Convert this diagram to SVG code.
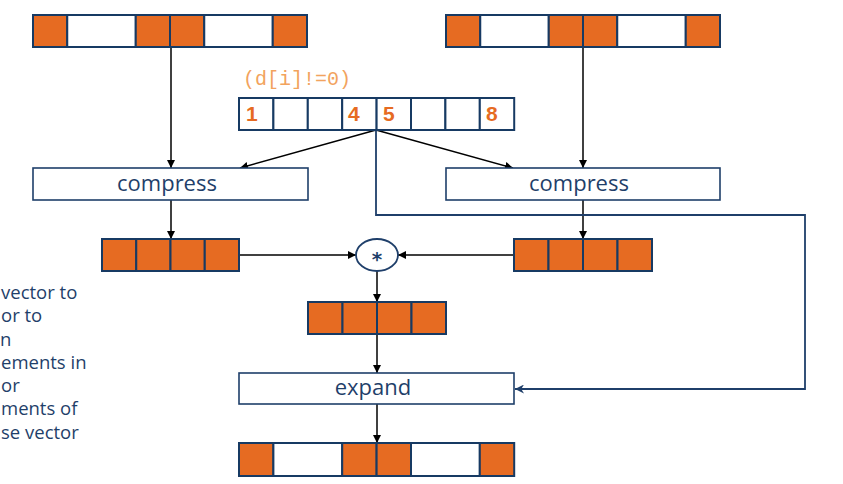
<svg xmlns="http://www.w3.org/2000/svg" width="843" height="484" viewBox="0 0 843 484">
<defs>
<style>
.o{fill:#E66B22;stroke:#173A63;stroke-width:2}
.w{fill:#FFFFFF;stroke:#173A63;stroke-width:2}
.box{fill:#FFFFFF;stroke:#1F3F6A;stroke-width:1.6}
.lbl{font-family:"Open Sans","Noto Sans",sans-serif;font-size:22px;fill:#1F3F6A;text-anchor:middle}
.num{font-family:"Liberation Sans",Arial,sans-serif;font-size:21px;font-weight:bold;fill:#E66B22}
.side{font-family:"Open Sans","Noto Sans",sans-serif;font-size:18.5px;fill:#1F3F6A}
.ln{fill:none;stroke:#000;stroke-width:1.5}
.nv{fill:none;stroke:#1F3F6A;stroke-width:1.8}
</style>
<marker id="ah" viewBox="0 0 10 10" refX="10" refY="5" markerWidth="8" markerHeight="8" markerUnits="userSpaceOnUse" orient="auto"><path d="M0,0 L10,5 L0,10 z" fill="#000"/></marker>
<marker id="ahb" viewBox="0 0 10 10" refX="10" refY="5" markerWidth="9" markerHeight="9" markerUnits="userSpaceOnUse" orient="auto"><path d="M0,0 L10,5 L0,10 L3,5 z" fill="#1F3F6A"/></marker>
</defs>

<g id="connectors">
<line class="ln" x1="171" y1="47" x2="171" y2="168" marker-end="url(#ah)"/>
<line class="ln" x1="583" y1="47" x2="583" y2="168" marker-end="url(#ah)"/>
<line class="ln" x1="376" y1="130" x2="240" y2="168" marker-end="url(#ah)"/>
<line class="ln" x1="376" y1="130" x2="513" y2="168" marker-end="url(#ah)"/>
<line class="ln" x1="171" y1="200" x2="171" y2="239" marker-end="url(#ah)"/>
<line class="ln" x1="583" y1="200" x2="583" y2="239" marker-end="url(#ah)"/>
<line class="ln" x1="239" y1="255" x2="356" y2="255" marker-end="url(#ah)"/>
<line class="ln" x1="514" y1="255" x2="398" y2="255" marker-end="url(#ah)"/>
<line class="ln" x1="377" y1="271" x2="377" y2="302" marker-end="url(#ah)"/>
<line class="ln" x1="377" y1="334" x2="377" y2="373" marker-end="url(#ah)"/>
<line class="ln" x1="377" y1="404" x2="377" y2="443" marker-end="url(#ah)"/>
<polyline class="nv" points="376,130 376,215 805,215 805,389 515,389" marker-end="url(#ahb)"/>
</g>

<g id="vecA">
<rect class="o" x="33" y="15" width="34.25" height="32"/>
<rect class="w" x="67.25" y="15" width="68.5" height="32"/>
<rect class="o" x="135.75" y="15" width="34.25" height="32"/>
<rect class="o" x="170" y="15" width="34.25" height="32"/>
<rect class="w" x="204.25" y="15" width="68.5" height="32"/>
<rect class="o" x="272.75" y="15" width="34.25" height="32"/>
</g>

<g id="vecB">
<rect class="o" x="446" y="15" width="34.25" height="32"/>
<rect class="w" x="480.25" y="15" width="68.5" height="32"/>
<rect class="o" x="548.75" y="15" width="34.25" height="32"/>
<rect class="o" x="583" y="15" width="34.25" height="32"/>
<rect class="w" x="617.25" y="15" width="68.5" height="32"/>
<rect class="o" x="685.75" y="15" width="34.25" height="32"/>
</g>

<g id="mask">
<text x="243" y="85" font-family="Liberation Mono,'DejaVu Sans Mono',monospace" font-size="20" fill="#F2A35E">(d[i]!=0)</text>
<rect class="w" x="239" y="98" width="34.4" height="32"/>
<rect class="w" x="273.4" y="98" width="34.4" height="32"/>
<rect class="w" x="307.8" y="98" width="34.4" height="32"/>
<rect class="w" x="342.2" y="98" width="34.4" height="32"/>
<rect class="w" x="376.6" y="98" width="34.4" height="32"/>
<rect class="w" x="411" y="98" width="34.4" height="32"/>
<rect class="w" x="445.4" y="98" width="34.4" height="32"/>
<rect class="w" x="479.8" y="98" width="34.4" height="32"/>
<text class="num" x="246" y="121">1</text>
<text class="num" x="348" y="121">4</text>
<text class="num" x="383" y="121">5</text>
<text class="num" x="486" y="121">8</text>
</g>

<g id="compressA">
<rect class="box" x="33" y="168" width="275" height="32"/>
<text class="lbl" x="167" y="191">compress</text>
</g>

<g id="compressB">
<rect class="box" x="446" y="168" width="274" height="32"/>
<text class="lbl" x="579" y="191">compress</text>
</g>

<g id="vecC">
<rect class="o" x="102" y="239" width="34.25" height="32"/>
<rect class="o" x="136.25" y="239" width="34.25" height="32"/>
<rect class="o" x="170.5" y="239" width="34.25" height="32"/>
<rect class="o" x="204.75" y="239" width="34.25" height="32"/>
</g>

<g id="vecD">
<rect class="o" x="514" y="239" width="34.5" height="32"/>
<rect class="o" x="548.5" y="239" width="34.5" height="32"/>
<rect class="o" x="583" y="239" width="34.5" height="32"/>
<rect class="o" x="617.5" y="239" width="34.5" height="32"/>
</g>

<g id="mul">
<ellipse cx="377" cy="255" rx="21" ry="16" fill="#FFFFFF" stroke="#1F3F6A" stroke-width="1.8"/>
<text x="377" y="266" font-family="'DejaVu Sans',sans-serif" font-size="20" font-weight="bold" fill="#1F3F6A" text-anchor="middle">*</text>
</g>

<g id="vecE">
<rect class="o" x="308" y="302" width="34.5" height="32"/>
<rect class="o" x="342.5" y="302" width="34.5" height="32"/>
<rect class="o" x="377" y="302" width="34.5" height="32"/>
<rect class="o" x="411.5" y="302" width="34.5" height="32"/>
</g>

<g id="expand">
<rect class="box" x="239" y="373" width="275" height="31"/>
<text class="lbl" x="373" y="395">expand</text>
</g>

<g id="vecF">
<rect class="o" x="239" y="443" width="34.4" height="33"/>
<rect class="w" x="273.4" y="443" width="68.8" height="33"/>
<rect class="o" x="342.2" y="443" width="34.4" height="33"/>
<rect class="o" x="376.6" y="443" width="34.4" height="33"/>
<rect class="w" x="411" y="443" width="68.8" height="33"/>
<rect class="o" x="479.8" y="443" width="34.4" height="33"/>
</g>

<g id="sidetext" class="side">
<text x="1" y="299">vector to</text>
<text x="1" y="322">or to</text>
<text x="0" y="346">n</text>
<text x="1" y="369">ements in</text>
<text x="1" y="392">or</text>
<text x="1" y="415">ments of</text>
<text x="1" y="439">se vector</text>
</g>
</svg>
